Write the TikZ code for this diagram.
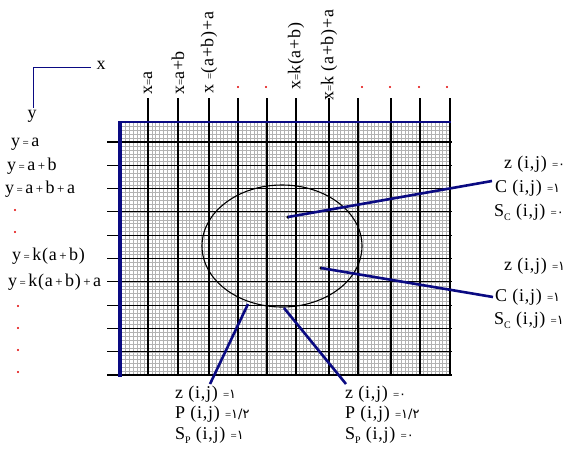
\documentclass[tikz,border=0pt]{standalone}
\usepackage{fontspec}
\setmainfont{Liberation Serif}[LetterSpace=4]
\newfontfamily\arabicfont[Script=Arabic]{DejaVu Sans}
\definecolor{navy}{RGB}{10,10,130}
\definecolor{dotred}{RGB}{225,0,0}
\newcommand\sm[1]{{\fontsize{11}{11}\selectfont #1}}
\newcommand\lsm[1]{\kern2.5pt{\fontsize{11}{11}\selectfont #1}\kern2.5pt}
\newcommand\lmd[1]{\kern2.5pt{\fontsize{13}{13}\selectfont #1}\kern2.5pt}
\newcommand\ar[1]{{\arabicfont\fontsize{13}{13}\selectfont #1}}
\newcommand\sub[1]{\raisebox{-4pt}{\fontsize{10}{10}\selectfont #1}}
\begin{document}
\begin{tikzpicture}[x=1pt,y=-1pt,
  lbl/.style={anchor=west,inner sep=0pt,font=\fontsize{18}{20}\selectfont},
  toplbl/.style={anchor=west,rotate=90,inner sep=0pt,font=\fontsize{18}{20}\selectfont},
  minor/.style={black!30,line width=0.3pt},
  major/.style={black,line width=1.1pt},
  conn/.style={navy,line width=2.6pt},
  rdot/.style={circle,fill=dotred,inner sep=0pt,minimum size=2.4pt},
  bdot/.style={circle,fill=black,inner sep=0pt,minimum size=3.5pt}]
\useasboundingbox (0,0) rectangle (572,456);
% minor grid
\foreach \k in {-7,...,79} \draw[minor] ({148+3.775*\k},122) -- ({148+3.775*\k},375);
\foreach \k in {-5,...,59} \draw[minor] (120,{142+3.883*\k}) -- (451,{142+3.883*\k});
% major verticals
\foreach \xx in {148,178,209,238,267,296,329,358,391,420,450} \draw[major] (\xx,98) -- (\xx,376);
% major horizontals
\foreach \k in {0,...,10} \draw[major] (107,{142+23.3*\k}) -- (452,{142+23.3*\k});
% blue frame
\draw[navy,line width=2pt] (119,122) -- (451,122);
\draw[navy,line width=3.2pt] (120,121) -- (120,377);
% axis indicator
\draw[navy,line width=1pt] (91,67) -- (33,67) -- (33,108);
\node[lbl,anchor=center] (ax) at (101,65) {x};
\node[lbl,anchor=center] (ay) at (32,116) {y};
% top labels
\node[toplbl] (t1) at (148,95) {x\sm{=}a};
\node[toplbl] (t2) at (178,95) {x\sm{=}a+b};
\node[toplbl] (t3) at (209,94) {x \sm{=}(a+b)+a};
\node[toplbl] (t4) at (296,90) {x\sm{=}k(a+b)};
\node[toplbl] (t5) at (329,101) {x\sm{=}k (a+b)+a};
\foreach \xx [count=\i] in {238,266,362,390,419,447} \node[rdot] (td\i) at (\xx,87) {};
% left labels
\node[lbl] (l1) at (11,144) {y\lsm{=}a};
\node[lbl] (l2) at (7,166) {y\lsm{=}a\lmd{+}b};
\node[lbl] (l3) at (5,189) {y\lsm{=}a\lmd{+}b\lmd{+}a};
\node[lbl] (l4) at (12,256) {y\lsm{=}k(a\lmd{+}b)};
\node[lbl] (l5) at (8,282) {y\lsm{=}k(a\lmd{+}b)\lmd{+}a};
\foreach \yy [count=\i] in {210,232} \node[rdot] (ld\i) at (15,\yy) {};
\foreach \yy [count=\i] in {306,328,350,372} \node[rdot] (le\i) at (18,\yy) {};
% ellipse
\draw[line width=1.1pt] (282,246) ellipse [x radius=80pt,y radius=61pt];
% connector anchors
\node[bdot] (p1) at (288,217) {};
\node[bdot] (p2) at (321,268) {};
\coordinate (p3) at (248,304);
\coordinate (p4) at (284,308);
\coordinate (e1) at (492,181);
\coordinate (e2) at (493,297);
\coordinate (e3) at (210,384);
\coordinate (e4) at (346,384);
\draw[conn] (p1.center) -- (e1);
\draw[conn] (p2.center) -- (e2);
\draw[conn] (p3) -- (e3);
\draw[conn] (p4) -- (e4);
% right labels group 1
\node[lbl] (r1) at (504,164) {z (i,j) \sm{=}\ar{٠}};
\node[lbl] (r2) at (495,188) {C (i,j) \sm{=}\ar{١}};
\node[lbl] (r3) at (494,212) {S\sub{C} (i,j) \sm{=}\ar{٠}};
% right labels group 2
\node[lbl] (r4) at (504,266) {z (i,j) \sm{=}\ar{١}};
\node[lbl] (r5) at (495,297) {C (i,j) \sm{=}\ar{١}};
\node[lbl] (r6) at (494,320) {S\sub{C} (i,j) \sm{=}\ar{١}};
% bottom labels group 1
\node[lbl] (b1) at (175,394) {z (i,j) \sm{=}\ar{١}};
\node[lbl] (b2) at (175,414) {P (i,j) \sm{=}\ar{١/٢}};
\node[lbl] (b3) at (175,435) {S\sub{P} (i,j) \sm{=}\ar{١}};
% bottom labels group 2
\node[lbl] (b4) at (345,394) {z (i,j) \sm{=}\ar{٠}};
\node[lbl] (b5) at (345,414) {P (i,j) \sm{=}\ar{١/٢}};
\node[lbl] (b6) at (345,435) {S\sub{P} (i,j) \sm{=}\ar{٠}};
\end{tikzpicture}
\end{document}
